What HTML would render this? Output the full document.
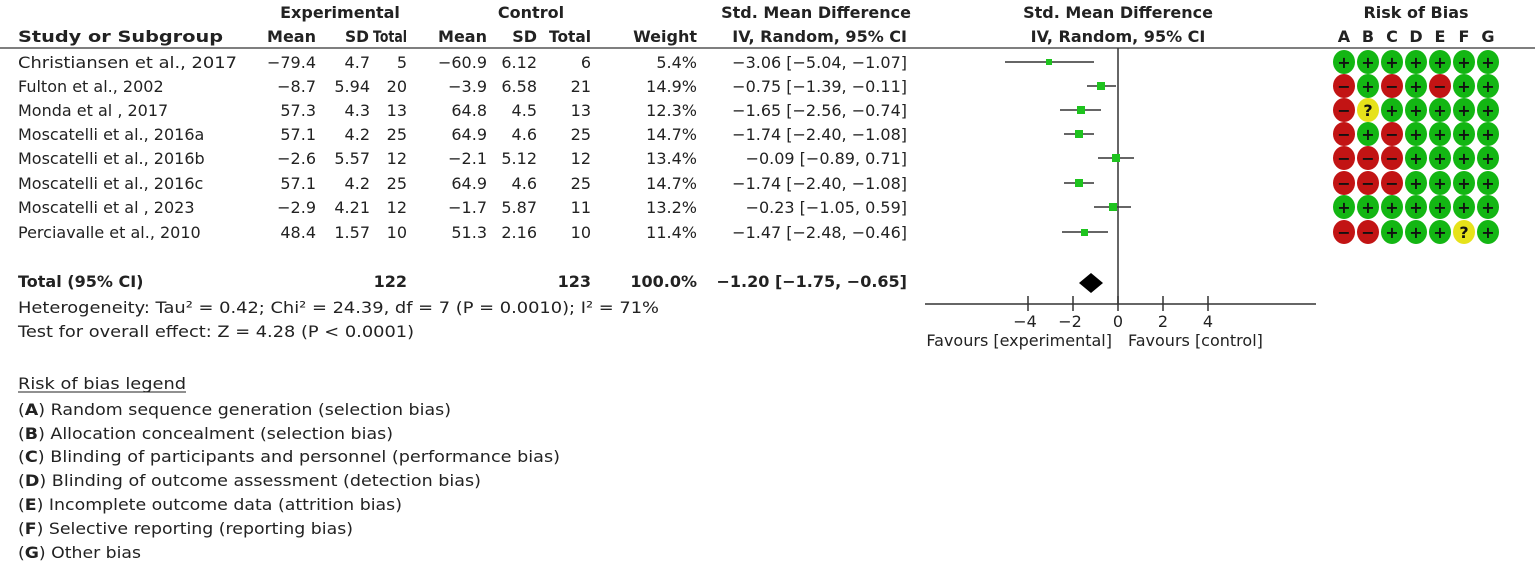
<!DOCTYPE html>
<html><head><meta charset="utf-8"><style>
html,body{margin:0;padding:0;background:#fff;}
svg{display:block;font-family:"DejaVu Sans","Liberation Sans",sans-serif;font-size:16px;fill:#222;}
.b{font-weight:bold;}
</style></head><body>
<svg width="1535" height="565" viewBox="0 0 1535 565" xmlns="http://www.w3.org/2000/svg">
<g class="b">
<text x="340" y="18" text-anchor="middle">Experimental</text>
<text x="531" y="18" text-anchor="middle">Control</text>
<text x="816" y="18" text-anchor="middle">Std. Mean Difference</text>
<text x="1118" y="18" text-anchor="middle">Std. Mean Difference</text>
<text x="1416" y="18" text-anchor="middle">Risk of Bias</text>
<text x="18" y="42" textLength="205" lengthAdjust="spacingAndGlyphs">Study or Subgroup</text>
<text x="316" y="42" text-anchor="end">Mean</text>
<text x="345" y="42" textLength="24" lengthAdjust="spacingAndGlyphs">SD</text>
<text x="373" y="42" textLength="34" lengthAdjust="spacingAndGlyphs">Total</text>
<text x="487" y="42" text-anchor="end">Mean</text>
<text x="537" y="42" text-anchor="end">SD</text>
<text x="549" y="42" textLength="42" lengthAdjust="spacingAndGlyphs">Total</text>
<text x="697" y="42" text-anchor="end">Weight</text>
<text x="907" y="42" text-anchor="end">IV, Random, 95% CI</text>
<text x="1118" y="42" text-anchor="middle">IV, Random, 95% CI</text>
<g text-anchor="middle">
<text x="1344" y="42">A</text><text x="1368" y="42">B</text><text x="1392" y="42">C</text><text x="1416" y="42">D</text><text x="1440" y="42">E</text><text x="1464" y="42">F</text><text x="1488" y="42">G</text>
</g>
</g>
<line x1="0" y1="48" x2="1535" y2="48" stroke="#555" stroke-width="1.5"/>

<g id="rows">
<text x="18" y="68" textLength="219" lengthAdjust="spacingAndGlyphs">Christiansen et al., 2017</text>
<text x="18" y="92">Fulton et al., 2002</text>
<text x="18" y="116">Monda et al , 2017</text>
<text x="18" y="140">Moscatelli et al., 2016a</text>
<text x="18" y="164">Moscatelli et al., 2016b</text>
<text x="18" y="189">Moscatelli et al., 2016c</text>
<text x="18" y="213">Moscatelli et al , 2023</text>
<text x="18" y="238">Perciavalle et al., 2010</text>
<g text-anchor="end">
<text x="316" y="68">−79.4</text><text x="370" y="68">4.7</text><text x="407" y="68">5</text><text x="487" y="68">−60.9</text><text x="537" y="68">6.12</text><text x="591" y="68">6</text><text x="697" y="68">5.4%</text><text x="907" y="68">−3.06 [−5.04, −1.07]</text>
<text x="316" y="92">−8.7</text><text x="370" y="92">5.94</text><text x="407" y="92">20</text><text x="487" y="92">−3.9</text><text x="537" y="92">6.58</text><text x="591" y="92">21</text><text x="697" y="92">14.9%</text><text x="907" y="92">−0.75 [−1.39, −0.11]</text>
<text x="316" y="116">57.3</text><text x="370" y="116">4.3</text><text x="407" y="116">13</text><text x="487" y="116">64.8</text><text x="537" y="116">4.5</text><text x="591" y="116">13</text><text x="697" y="116">12.3%</text><text x="907" y="116">−1.65 [−2.56, −0.74]</text>
<text x="316" y="140">57.1</text><text x="370" y="140">4.2</text><text x="407" y="140">25</text><text x="487" y="140">64.9</text><text x="537" y="140">4.6</text><text x="591" y="140">25</text><text x="697" y="140">14.7%</text><text x="907" y="140">−1.74 [−2.40, −1.08]</text>
<text x="316" y="164">−2.6</text><text x="370" y="164">5.57</text><text x="407" y="164">12</text><text x="487" y="164">−2.1</text><text x="537" y="164">5.12</text><text x="591" y="164">12</text><text x="697" y="164">13.4%</text><text x="907" y="164">−0.09 [−0.89, 0.71]</text>
<text x="316" y="189">57.1</text><text x="370" y="189">4.2</text><text x="407" y="189">25</text><text x="487" y="189">64.9</text><text x="537" y="189">4.6</text><text x="591" y="189">25</text><text x="697" y="189">14.7%</text><text x="907" y="189">−1.74 [−2.40, −1.08]</text>
<text x="316" y="213">−2.9</text><text x="370" y="213">4.21</text><text x="407" y="213">12</text><text x="487" y="213">−1.7</text><text x="537" y="213">5.87</text><text x="591" y="213">11</text><text x="697" y="213">13.2%</text><text x="907" y="213">−0.23 [−1.05, 0.59]</text>
<text x="316" y="238">48.4</text><text x="370" y="238">1.57</text><text x="407" y="238">10</text><text x="487" y="238">51.3</text><text x="537" y="238">2.16</text><text x="591" y="238">10</text><text x="697" y="238">11.4%</text><text x="907" y="238">−1.47 [−2.48, −0.46]</text>
</g>
</g>

<g class="b">
<text x="18" y="287">Total (95% CI)</text>
<text x="407" y="287" text-anchor="end">122</text>
<text x="591" y="287" text-anchor="end">123</text>
<text x="697" y="287" text-anchor="end">100.0%</text>
<text x="907" y="287" text-anchor="end">−1.20 [−1.75, −0.65]</text>
</g>
<text x="18" y="313" textLength="641" lengthAdjust="spacingAndGlyphs">Heterogeneity: Tau² = 0.42; Chi² = 24.39, df = 7 (P = 0.0010); I² = 71%</text>
<text x="18" y="337" textLength="396" lengthAdjust="spacingAndGlyphs">Test for overall effect: Z = 4.28 (P &lt; 0.0001)</text>

<text x="18" y="389" textLength="168" lengthAdjust="spacingAndGlyphs">Risk of bias legend</text>
<line x1="18" y1="392" x2="186" y2="392" stroke="#222" stroke-width="1"/>
<text x="18" y="415" textLength="433" lengthAdjust="spacingAndGlyphs">(<tspan class="b">A</tspan>) Random sequence generation (selection bias)</text>
<text x="18" y="439" textLength="375" lengthAdjust="spacingAndGlyphs">(<tspan class="b">B</tspan>) Allocation concealment (selection bias)</text>
<text x="18" y="462" textLength="542" lengthAdjust="spacingAndGlyphs">(<tspan class="b">C</tspan>) Blinding of participants and personnel (performance bias)</text>
<text x="18" y="486" textLength="463" lengthAdjust="spacingAndGlyphs">(<tspan class="b">D</tspan>) Blinding of outcome assessment (detection bias)</text>
<text x="18" y="510" textLength="384" lengthAdjust="spacingAndGlyphs">(<tspan class="b">E</tspan>) Incomplete outcome data (attrition bias)</text>
<text x="18" y="534" textLength="335" lengthAdjust="spacingAndGlyphs">(<tspan class="b">F</tspan>) Selective reporting (reporting bias)</text>
<text x="18" y="558" textLength="123" lengthAdjust="spacingAndGlyphs">(<tspan class="b">G</tspan>) Other bias</text>

<g stroke="#333" stroke-width="1.5">
<line x1="1118" y1="48" x2="1118" y2="304"/>
<line x1="925" y1="304" x2="1316" y2="304"/>
<line x1="1028" y1="296" x2="1028" y2="311"/>
<line x1="1073" y1="296" x2="1073" y2="311"/>
<line x1="1118" y1="296" x2="1118" y2="311"/>
<line x1="1163" y1="296" x2="1163" y2="311"/>
<line x1="1208" y1="296" x2="1208" y2="311"/>
<line x1="1005" y1="62" x2="1094" y2="62"/>
<line x1="1087" y1="86" x2="1116" y2="86"/>
<line x1="1060" y1="110" x2="1101" y2="110"/>
<line x1="1064" y1="134" x2="1094" y2="134"/>
<line x1="1098" y1="158" x2="1134" y2="158"/>
<line x1="1064" y1="183" x2="1094" y2="183"/>
<line x1="1094" y1="207" x2="1131" y2="207"/>
<line x1="1062" y1="232" x2="1108" y2="232"/>
</g>
<g fill="#1ec31e">
<rect x="1046" y="59" width="6" height="6"/>
<rect x="1097" y="82" width="8" height="8"/>
<rect x="1077" y="106" width="8" height="8"/>
<rect x="1075" y="130" width="8" height="8"/>
<rect x="1112" y="154" width="8" height="8"/>
<rect x="1075" y="179" width="8" height="8"/>
<rect x="1109" y="203" width="8" height="8"/>
<rect x="1081" y="229" width="7" height="7"/>
</g>
<polygon points="1079,283 1091,273 1103,283 1091,293" fill="#000"/>
<g text-anchor="middle">
<text x="1025" y="327">−4</text><text x="1070" y="327">−2</text><text x="1118" y="327">0</text><text x="1163" y="327">2</text><text x="1208" y="327">4</text>
</g>
<text x="1112" y="346" text-anchor="end">Favours [experimental]</text>
<text x="1128" y="346">Favours [control]</text>

<g id="rob" font-weight="bold" font-size="16" text-anchor="middle"></g>
<script>
var rows=["+++++++","-+-+-++","-?+++++","-+-++++","---++++","---++++","+++++++","--+++?+"];
var ys=[62,86,110,134,158,183,207,232];
var g=document.getElementById("rob"),ns="http://www.w3.org/2000/svg";
rows.forEach(function(r,i){for(var j=0;j<7;j++){var c=r[j],x=1344+24*j,y=ys[i];
var e=document.createElementNS(ns,"ellipse");e.setAttribute("cx",x);e.setAttribute("cy",y);e.setAttribute("rx",11);e.setAttribute("ry",12);
e.setAttribute("fill",c=="+"?"#13b613":c=="-"?"#c21414":"#e6e21a");g.appendChild(e);
var t=document.createElementNS(ns,"text");t.setAttribute("x",x);t.setAttribute("y",y+6);t.setAttribute("fill","#111");
t.textContent=c=="-"?"−":c;g.appendChild(t);}});
</script>
</svg>
</body></html>
